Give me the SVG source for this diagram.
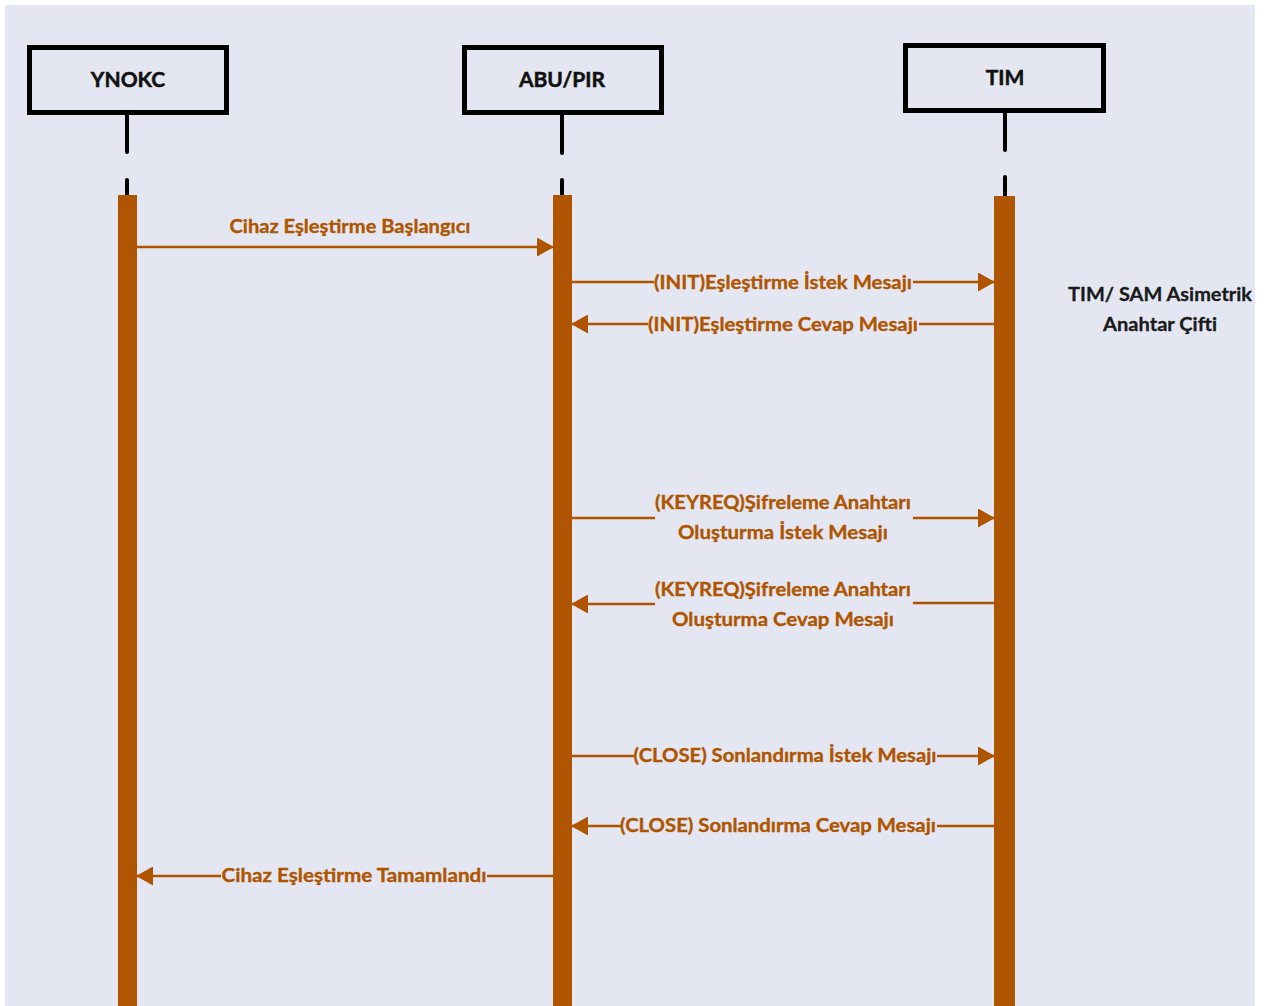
<svg xmlns="http://www.w3.org/2000/svg" width="1268" height="1006" viewBox="0 0 1268 1006">
  <style>
    .actor { fill: #E4E7F2; stroke: #000; stroke-width: 5; }
    .actor-label { font-family: Lato, "Liberation Sans", sans-serif; font-weight: bold; font-size: 21px; fill: #111; stroke: #111; stroke-width: 0.5; text-anchor: middle; }
    .stub { stroke: #000; stroke-width: 4; stroke-linecap: round; }
    .bar { fill: #AF5500; }
    .msg { stroke: #AF5500; stroke-width: 2.5; fill: none; }
    .msg-label { font-family: Lato, "Liberation Sans", sans-serif; font-weight: bold; font-size: 18.5px; fill: #AF5500; stroke: #AF5500; stroke-width: 0.35; text-anchor: middle; }
    .note { font-family: Lato, "Liberation Sans", sans-serif; font-weight: bold; font-size: 19px; fill: #1A1A1A; stroke: #1A1A1A; stroke-width: 0.3; text-anchor: middle; }
  </style>
  <defs>
    <marker id="head" markerUnits="userSpaceOnUse" markerWidth="17" markerHeight="19" viewBox="0 0 17 19" refX="16" refY="9.5" orient="auto">
      <path d="M0,0 L17,9.5 L0,19 z" fill="#AF5500"/>
    </marker>
  </defs>

  <rect x="0" y="0" width="1268" height="1006" fill="#FFFFFF"/>
  <rect x="5" y="5" width="1250" height="1001" fill="#E4E7F2"/>

  <!-- participants -->
  <g id="ynokc">
    <rect class="actor" x="29.5" y="47.5" width="197" height="65"/>
    <text class="actor-label" x="128" y="87">YNOKC</text>
    <line class="stub" x1="127" y1="113" x2="127" y2="152"/>
    <line class="stub" x1="127" y1="180" x2="127" y2="196"/>
    <rect class="bar" x="118" y="195" width="19" height="811"/>
  </g>
  <g id="abu-pir">
    <rect class="actor" x="464.5" y="47.5" width="197" height="65"/>
    <text class="actor-label" x="562" y="87">ABU/PIR</text>
    <line class="stub" x1="562" y1="113" x2="562" y2="153"/>
    <line class="stub" x1="562" y1="180" x2="562" y2="196"/>
    <rect class="bar" x="553" y="195" width="19" height="811"/>
  </g>
  <g id="tim">
    <rect class="actor" x="905.5" y="45.5" width="198" height="65"/>
    <text class="actor-label" x="1005" y="85">TIM</text>
    <line class="stub" x1="1005" y1="111" x2="1005" y2="150"/>
    <line class="stub" x1="1005" y1="177" x2="1005" y2="196"/>
    <rect class="bar" x="994" y="196" width="21" height="810"/>
  </g>
  <g id="tim-note">
    <text class="note" x="1160" y="301" textLength="184" lengthAdjust="spacingAndGlyphs">TIM/ SAM Asimetrik</text>
    <text class="note" x="1160" y="331" textLength="114" lengthAdjust="spacingAndGlyphs">Anahtar Çifti</text>
  </g>

  <!-- messages -->
  <g id="connectors">
    <line class="msg" x1="137" y1="247" x2="553" y2="247" marker-end="url(#head)"/>
    <text class="msg-label" x="350" y="233" textLength="241" lengthAdjust="spacingAndGlyphs">Cihaz Eşleştirme Başlangıcı</text>

    <line class="msg" x1="572" y1="282" x2="654" y2="282"/>
    <line class="msg" x1="913" y1="282" x2="994" y2="282" marker-end="url(#head)"/>
    <text class="msg-label" x="783" y="289" textLength="258" lengthAdjust="spacingAndGlyphs">(INIT)Eşleştirme İstek Mesajı</text>

    <line class="msg" x1="994" y1="324" x2="919" y2="324"/>
    <line class="msg" x1="648" y1="324" x2="572" y2="324" marker-end="url(#head)"/>
    <text class="msg-label" x="783" y="331" textLength="270" lengthAdjust="spacingAndGlyphs">(INIT)Eşleştirme Cevap Mesajı</text>

    <line class="msg" x1="572" y1="518" x2="655" y2="518"/>
    <line class="msg" x1="913" y1="518" x2="994" y2="518" marker-end="url(#head)"/>
    <text class="msg-label" x="783" y="509" textLength="256" lengthAdjust="spacingAndGlyphs">(KEYREQ)Şifreleme Anahtarı</text>
    <text class="msg-label" x="783" y="539" textLength="210" lengthAdjust="spacingAndGlyphs">Oluşturma İstek Mesajı</text>

    <line class="msg" x1="994" y1="603" x2="913" y2="603"/>
    <line class="msg" x1="655" y1="604" x2="572" y2="604" marker-end="url(#head)"/>
    <text class="msg-label" x="783" y="596" textLength="256" lengthAdjust="spacingAndGlyphs">(KEYREQ)Şifreleme Anahtarı</text>
    <text class="msg-label" x="783" y="626" textLength="222" lengthAdjust="spacingAndGlyphs">Oluşturma Cevap Mesajı</text>

    <line class="msg" x1="572" y1="756" x2="634" y2="756"/>
    <line class="msg" x1="937" y1="756" x2="994" y2="756" marker-end="url(#head)"/>
    <text class="msg-label" x="785" y="762" textLength="303" lengthAdjust="spacingAndGlyphs">(CLOSE) Sonlandırma İstek Mesajı</text>

    <line class="msg" x1="994" y1="826" x2="937" y2="826"/>
    <line class="msg" x1="621" y1="826" x2="572" y2="826" marker-end="url(#head)"/>
    <text class="msg-label" x="778" y="832" textLength="316" lengthAdjust="spacingAndGlyphs">(CLOSE) Sonlandırma Cevap Mesajı</text>

    <line class="msg" x1="553" y1="876" x2="487" y2="876"/>
    <line class="msg" x1="221" y1="876" x2="137" y2="876" marker-end="url(#head)"/>
    <text class="msg-label" x="354" y="882" textLength="265" lengthAdjust="spacingAndGlyphs">Cihaz Eşleştirme Tamamlandı</text>
  </g>
</svg>
